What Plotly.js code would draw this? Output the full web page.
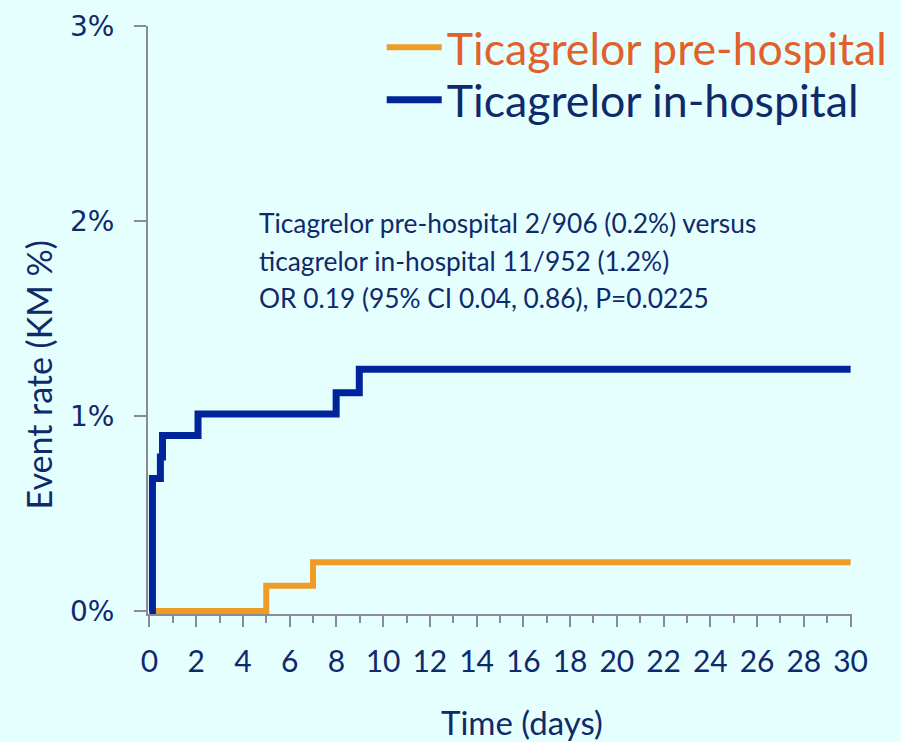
<!DOCTYPE html>
<html>
<head>
<meta charset="utf-8">
<script src="https://cdn.plot.ly/plotly-3.0.1.min.js"></script>
<style>html,body{margin:0;padding:0;background:#E5FFFF;}#chart{width:901px;height:742px;}</style>
</head>
<body>
<div id="chart"></div>
<script>
// Data (Kaplan-Meier event rate, %)
const seriesNames = ["Ticagrelor pre-hospital", "Ticagrelor in-hospital"];
const preTimes = [0, 5, 7, 30];
const preRates = [0, 0.13, 0.25, 0.25];
const inTimes = [0, 0.13, 0.47, 0.56, 2.08, 7.99, 8.98, 30];
const inRates = [0, 0.68, 0.79, 0.90, 1.01, 1.12, 1.24, 1.24];
const yTickVals = [0, 1, 2, 3];
const yTickText = ["0%", "1%", "2%", "3%"];
const xTickVals = [0, 2, 4, 6, 8, 10, 12, 14, 16, 18, 20, 22, 24, 26, 28, 30];
const statLines = [
  "Ticagrelor pre-hospital 2/906 (0.2%) versus",
  "ticagrelor in-hospital 11/952 (1.2%)",
  "OR 0.19 (95% CI 0.04, 0.86), P=0.0225"
];
const yTitle = "Event rate (KM %)";
const xTitle = "Time (days)";

const navy = "#0F2A6B";
const FONT = "Lato, sans-serif";
const traces = [
  {
    x: preTimes, y: preRates, type: "scatter", mode: "lines",
    line: {shape: "hv", color: "#EE9C26", width: 6},
    name: seriesNames[0], legend: "legend"
  },
  {
    x: inTimes, y: inRates, type: "scatter", mode: "lines",
    line: {shape: "hv", color: "#00249A", width: 7},
    name: seriesNames[1], legend: "legend2"
  }
];

const statY = [1.99, 1.795, 1.605];
const annotations = statLines.map((t, i) => ({
  text: t, xref: "x", yref: "y", x: 4.62, y: statY[i],
  xanchor: "left", yanchor: "middle", showarrow: false,
  font: {family: FONT, size: 26.3, color: navy}
}));
annotations.push({
  text: xTitle, xref: "paper", yref: "paper", x: 0.531, y: -0.184,
  xanchor: "center", yanchor: "middle", showarrow: false,
  font: {family: FONT, size: 33, color: navy}
});
annotations.push({
  text: yTitle, xref: "paper", yref: "paper", x: -0.156, y: 0.406,
  xanchor: "center", yanchor: "middle", showarrow: false, textangle: -90,
  font: {family: FONT, size: 34, color: navy}
});

const legendBase = {
  x: 0.332, xanchor: "left", yanchor: "middle",
  bgcolor: "rgba(0,0,0,0)", borderwidth: 0, itemwidth: 55
};

const layout = {
  width: 901, height: 742,
  paper_bgcolor: "#E5FFFF", plot_bgcolor: "#E5FFFF",
  margin: {l: 148, r: 49, t: 26, b: 128, pad: 0, autoexpand: false},
  showlegend: true,
  legend: Object.assign({}, legendBase, {y: 0.963, font: {family: FONT, size: 44.7, color: "#E0612A"}}),
  legend2: Object.assign({}, legendBase, {y: 0.874, font: {family: FONT, size: 44.7, color: navy}}),
  xaxis: {
    range: [-0.06, 30.06], showgrid: false, zeroline: false,
    showline: true, linecolor: "#8A8A9A", linewidth: 2,
    tickmode: "array", tickvals: xTickVals,
    ticks: "outside", ticklen: 11, tickwidth: 2, tickcolor: "#8A8A9A",
    minor: {dtick: 1, tick0: 0, ticks: "outside", ticklen: 7, tickwidth: 2, tickcolor: "#8A8A9A", showgrid: false},
    tickfont: {family: FONT, size: 30, color: navy},
    ticklabelstandoff: 9, automargin: false,
    layer: "below traces", fixedrange: true
  },
  yaxis: {
    range: [-0.015, 3], showgrid: false, zeroline: false,
    showline: true, linecolor: "#8A8A9A", linewidth: 2,
    tickmode: "array", tickvals: yTickVals, ticktext: yTickText,
    ticks: "outside", ticklen: 12, tickwidth: 2, tickcolor: "#8A8A9A",
    tickfont: {family: "DejaVu Sans, Verdana, sans-serif", size: 28, color: navy},
    ticklabelstandoff: 14, automargin: false,
    layer: "below traces", fixedrange: true
  },
  annotations: annotations
};

Plotly.newPlot("chart", traces, layout, {displayModeBar: false, staticPlot: true});
</script>
</body>
</html>
